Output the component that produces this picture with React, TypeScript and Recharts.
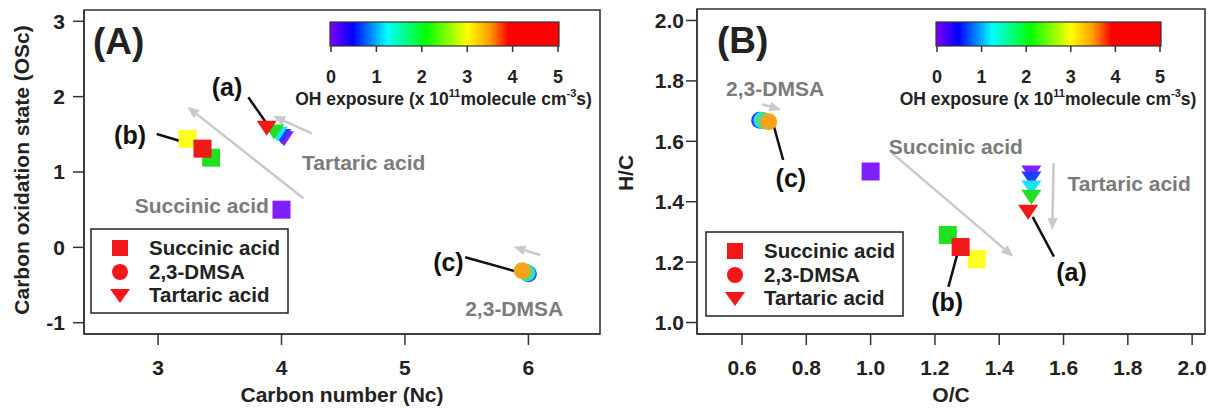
import React from "react";
import {
  ScatterChart,
  Scatter,
  XAxis,
  YAxis,
  ReferenceLine,
  ReferenceDot,
  ReferenceArea,
} from "recharts";

const FONT = "'Liberation Sans', Arial, sans-serif";
const INK = "#222";
const GREY = "#7b7b7b";
const ARROW = "#c9c9c9";

// colour = OH exposure of each point
const succinicColors = ["#8020ff", "#20e020", "#ffff20", "#f01818"];
const succinicNc = [4.0, 3.43, 3.24, 3.36];
const succinicOSc = [0.5, 1.19, 1.44, 1.31];
const succinicOC = [1.0, 1.24, 1.33, 1.28];
const succinicHC = [1.5, 1.29, 1.21, 1.25];

const tartaricColors = ["#8020ff", "#2040ff", "#20e0ff", "#20e020", "#f01818"];
const tartaricNc = [4.02, 4.0, 3.97, 3.94, 3.88];
const tartaricOSc = [1.46, 1.49, 1.52, 1.55, 1.6];
const tartaricOC = [1.5, 1.5, 1.5, 1.5, 1.49];
const tartaricHC = [1.5, 1.48, 1.45, 1.42, 1.37];

const dmsaColors = ["#2040ff", "#20e0ff", "#40e090", "#f5a31a"];
const dmsaNc = [6.0, 5.99, 5.98, 5.95];
const dmsaOSc = [-0.35, -0.34, -0.33, -0.31];
const dmsaOC = [0.655, 0.662, 0.668, 0.683];
const dmsaHC = [1.67, 1.67, 1.668, 1.665];

const ticksNc = [3, 4, 5, 6];
const ticksOSc = [-1, 0, 1, 2, 3];
const ticksOC = [0.6, 0.8, 1.0, 1.2, 1.4, 1.6, 1.8, 2.0];
const ticksHC = [1.0, 1.2, 1.4, 1.6, 1.8, 2.0];
const colorbarTicks = [0, 1, 2, 3, 4, 5];
const legendNames = ["Succinic acid", "2,3-DMSA", "Tartaric acid"];

// annotations, in data units
const leadersA = [
  { label: "(a)", at: [3.559, 2.128], from: [3.731, 1.991], to: [3.907, 1.58] },
  { label: "(b)", at: [2.773, 1.491], from: [2.989, 1.504], to: [3.313, 1.345] },
  { label: "(c)", at: [5.352, -0.19], from: [5.488, -0.132], to: [5.906, -0.323] },
];
const arrowsA = [
  { name: "Succinic acid", at: [3.354, 0.553], from: [4.177, 0.651], to: [3.237, 1.867] },
  { name: "Tartaric acid", at: [4.666, 1.123], from: [4.245, 1.514], to: [3.932, 1.743] },
  { name: "2,3-DMSA", at: [5.885, -0.809], from: [6.095, -0.101], to: [5.879, 0.009] },
];
const leadersB = [
  { label: "(a)", at: [1.625, 1.168], from: [1.504, 1.35], to: [1.57, 1.218] },
  { label: "(b)", at: [1.238, 1.069], from: [1.273, 1.24], to: [1.242, 1.118] },
  { label: "(c)", at: [0.752, 1.477], from: [0.698, 1.654], to: [0.728, 1.538] },
];
const arrowsB = [
  { name: "Succinic acid", at: [1.265, 1.584], from: [1.068, 1.56], to: [1.444, 1.218] },
  { name: "Tartaric acid", at: [1.804, 1.459], from: [1.569, 1.527], to: [1.565, 1.306] },
  { name: "2,3-DMSA", at: [0.703, 1.775], from: [0.662, 1.723], to: [0.722, 1.704] },
];

const zip = (xs: number[], ys: number[], cs: string[]) =>
  xs.map((x, i) => ({ x, y: ys[i], c: cs[i] }));

const Square = (p: any) => (
  <rect x={p.cx - 9} y={p.cy - 9} width={18} height={18} fill={p.payload.c} />
);
const Dot = (p: any) => <circle cx={p.cx} cy={p.cy} r={8.5} fill={p.payload.c} />;
const TriDown = (p: any) => (
  <polygon
    points={`${p.cx - 10},${p.cy - 6} ${p.cx + 10},${p.cy - 6} ${p.cx},${p.cy + 9}`}
    fill={p.payload.c}
  />
);

const leaderShape = (p: any) => (
  <line x1={p.x1} y1={p.y1} x2={p.x2} y2={p.y2} stroke="#111" strokeWidth={2.5} />
);

const arrowShape = (p: any) => {
  const { x1, y1, x2, y2 } = p;
  const a = Math.atan2(y2 - y1, x2 - x1);
  const bx = x2 - 12 * Math.cos(a);
  const by = y2 - 12 * Math.sin(a);
  const nx = -Math.sin(a) * 5;
  const ny = Math.cos(a) * 5;
  return (
    <g>
      <line x1={x1} y1={y1} x2={bx} y2={by} stroke={ARROW} strokeWidth={2.5} />
      <polygon points={`${x2},${y2} ${bx + nx},${by + ny} ${bx - nx},${by - ny}`} fill={ARROW} />
    </g>
  );
};

const textShape = (text: string, fill: string, size: number) => (p: any) => (
  <text
    x={p.cx}
    y={p.cy}
    textAnchor="middle"
    dominantBaseline="central"
    fontFamily={FONT}
    fontWeight={700}
    fontSize={size}
    fill={fill}
  >
    {text}
  </text>
);

const tickStyle = { fontSize: 21, fontWeight: 700, fill: INK, fontFamily: FONT };
const fmt1 = (v: number) => v.toFixed(1);

type PanelProps = {
  left: number;
  width: number;
  margin: any;
  yWidth: number;
  xDomain: number[];
  yDomain: number[];
  xTicks: number[];
  yTicks: number[];
  yTickMargin: number;
  fmt?: (v: number) => string;
  succinic: any[];
  tartaric: any[];
  dmsa: any[];
  leaders: any[];
  arrows: any[];
};

const Panel = (p: PanelProps) => (
  <div style={{ position: "absolute", left: p.left, top: 0 }}>
    <ScatterChart width={p.width} height={408} margin={p.margin}>
      <XAxis
        type="number"
        dataKey="x"
        domain={p.xDomain}
        ticks={p.xTicks}
        allowDataOverflow
        height={74}
        tickSize={11}
        tickMargin={15}
        tick={tickStyle}
        tickFormatter={p.fmt}
        axisLine={{ stroke: "#333", strokeWidth: 1.5 }}
        tickLine={{ stroke: "#333", strokeWidth: 1.5 }}
      />
      <YAxis
        type="number"
        dataKey="y"
        domain={p.yDomain}
        ticks={p.yTicks}
        allowDataOverflow
        width={p.yWidth}
        tickSize={11}
        tickMargin={p.yTickMargin}
        tick={tickStyle}
        tickFormatter={p.fmt}
        axisLine={{ stroke: "#333", strokeWidth: 1.5 }}
        tickLine={{ stroke: "#333", strokeWidth: 1.5 }}
      />
      <ReferenceArea
        x1={p.xDomain[0]}
        x2={p.xDomain[1]}
        y1={p.yDomain[0]}
        y2={p.yDomain[1]}
        fill="none"
        stroke="#333"
        strokeWidth={1.6}
        fillOpacity={0}
        ifOverflow="visible"
      />
      {p.arrows.map((a, i) => (
        <ReferenceLine
          key={"ar" + i}
          segment={[
            { x: a.from[0], y: a.from[1] },
            { x: a.to[0], y: a.to[1] },
          ]}
          shape={arrowShape}
        />
      ))}
      <Scatter data={p.succinic} shape={Square} isAnimationActive={false} />
      <Scatter data={p.tartaric} shape={TriDown} isAnimationActive={false} />
      <Scatter data={p.dmsa} shape={Dot} isAnimationActive={false} />
      {p.leaders.map((l, i) => (
        <ReferenceLine
          key={"ld" + i}
          segment={[
            { x: l.from[0], y: l.from[1] },
            { x: l.to[0], y: l.to[1] },
          ]}
          shape={leaderShape}
        />
      ))}
      {p.leaders.map((l, i) => (
        <ReferenceDot key={"lt" + i} x={l.at[0]} y={l.at[1]} r={0} shape={textShape(l.label, "#111", 25)} />
      ))}
      {p.arrows.map((a, i) => (
        <ReferenceDot key={"at" + i} x={a.at[0]} y={a.at[1]} r={0} shape={textShape(a.name, GREY, 21)} />
      ))}
    </ScatterChart>
  </div>
);

const Colorbar = ({ x0, x1, cx, id }: { x0: number; x1: number; cx: number; id: string }) => (
  <g>
    <defs>
      <linearGradient id={id} x1="0" x2="1" y1="0" y2="0">
        <stop offset="0" stopColor="#7f00ff" />
        <stop offset="0.1" stopColor="#0000ff" />
        <stop offset="0.25" stopColor="#00ffff" />
        <stop offset="0.42" stopColor="#00ff00" />
        <stop offset="0.6" stopColor="#ffff00" />
        <stop offset="0.7" stopColor="#ff9900" />
        <stop offset="0.78" stopColor="#ff0000" />
        <stop offset="1" stopColor="#ff0000" />
      </linearGradient>
    </defs>
    <rect x={x0} y={22} width={x1 - x0} height={24} fill={`url(#${id})`} stroke="#333" strokeWidth={1.2} />
    {colorbarTicks.map((t) => {
      const x = x0 + 1 + (t / 5) * (x1 - x0 - 2);
      return (
        <g key={t}>
          <line x1={x} x2={x} y1={46} y2={52} stroke="#333" strokeWidth={1.5} />
          <text x={x} y={83} textAnchor="middle" fontSize={18} fontWeight={700} fill={INK} fontFamily={FONT}>
            {t}
          </text>
        </g>
      );
    })}
    <text x={cx} y={105} textAnchor="middle" fontSize={17.5} fontWeight={700} fill={INK} fontFamily={FONT}>
      OH exposure (x 10
      <tspan dy={-8} fontSize={11}>
        11
      </tspan>
      <tspan dy={8}>molecule cm</tspan>
      <tspan dy={-8} fontSize={11}>
        -3
      </tspan>
      <tspan dy={8}>s)</tspan>
    </text>
  </g>
);

const Legend = ({ x, y }: { x: number; y: number }) => {
  const mx = x + 29;
  const rows = [y + 19, y + 43, y + 66];
  return (
    <g fontFamily={FONT}>
      <rect x={x} y={y} width={197} height={84} fill="#fff" stroke={INK} strokeWidth={1.5} />
      <rect x={mx - 8} y={rows[0] - 8} width={16} height={16} fill="#f01818" />
      <circle cx={mx} cy={rows[1]} r={8} fill="#f01818" />
      <polygon points={`${mx - 10},${rows[2] - 6} ${mx + 10},${rows[2] - 6} ${mx},${rows[2] + 8}`} fill="#f01818" />
      {legendNames.map((n, i) => (
        <text key={n} x={x + 58} y={rows[i] + 7} fontSize={20.5} fontWeight={700} fill={INK}>
          {n}
        </text>
      ))}
    </g>
  );
};

const label = { fontFamily: FONT, fontWeight: 700, fill: INK } as const;

export default function App() {
  return (
    <div style={{ position: "fixed", left: 0, top: 0, width: 1211, height: 408, background: "#fff" }}>
      <Panel
        left={0}
        width={610}
        margin={{ top: 10, right: 10, bottom: 0, left: 0 }}
        yWidth={84}
        xDomain={[2.4, 6.58]}
        yDomain={[-1.15, 3.15]}
        xTicks={ticksNc}
        yTicks={ticksOSc}
        yTickMargin={8}
        succinic={zip(succinicNc, succinicOSc, succinicColors)}
        tartaric={zip(tartaricNc, tartaricOSc, tartaricColors)}
        dmsa={zip(dmsaNc, dmsaOSc, dmsaColors)}
        leaders={leadersA}
        arrows={arrowsA}
      />
      <Panel
        left={610}
        width={601}
        margin={{ top: 9, right: 6, bottom: 0, left: 0 }}
        yWidth={87}
        xDomain={[0.46, 2.04]}
        yDomain={[0.962, 2.038]}
        xTicks={ticksOC}
        yTicks={ticksHC}
        yTickMargin={2}
        fmt={fmt1}
        succinic={zip(succinicOC, succinicHC, succinicColors)}
        tartaric={zip(tartaricOC, tartaricHC, tartaricColors)}
        dmsa={zip(dmsaOC, dmsaHC, dmsaColors)}
        leaders={leadersB}
        arrows={arrowsB}
      />
      <svg width={1211} height={408} style={{ position: "absolute", left: 0, top: 0, pointerEvents: "none" }}>
        <Colorbar x0={330} x1={559} cx={443.5} id="cbA" />
        <Colorbar x0={936} x1={1161} cx={1048} id="cbB" />
        <Legend x={91} y={229} />
        <Legend x={706} y={232} />
        <text x={93} y={54} fontSize={37} {...label}>(A)</text>
        <text x={717} y={53} fontSize={37} {...label}>(B)</text>
        <text x={342} y={402} fontSize={21} textAnchor="middle" {...label}>Carbon number (Nc)</text>
        <text x={951} y={402} fontSize={21} textAnchor="middle" {...label}>O/C</text>
        <text transform="translate(29,170) rotate(-90)" fontSize={21} textAnchor="middle" {...label}>
          Carbon oxidation state (OSc)
        </text>
        <text transform="translate(633,173) rotate(-90)" fontSize={21} textAnchor="middle" {...label}>
          H/C
        </text>
      </svg>
    </div>
  );
}
